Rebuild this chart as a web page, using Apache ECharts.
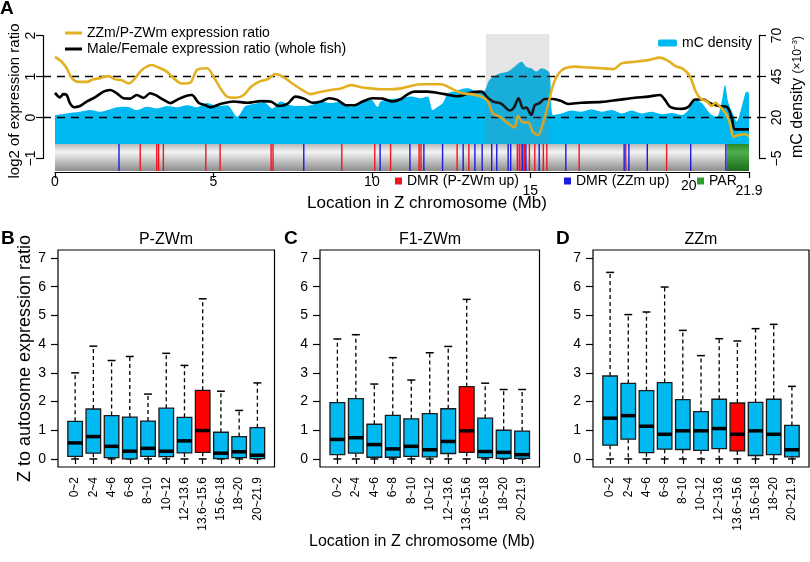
<!DOCTYPE html>
<html><head><meta charset="utf-8">
<script src="https://cdn.jsdelivr.net/npm/echarts@6/dist/echarts.min.js"></script>
<style>html,body{margin:0;padding:0;background:#fff}#c{width:810px;height:562px}</style>
</head><body><div id="c"></div>
<script>
// ================= DATA =================
const chromLength = 21.9;
const xTickValues = [0, 5, 10, 15, 20, 21.9];
const leftTicks = [-1, 0, 1, 2];
const rightTicks = [-5, 20, 45, 70];
const refLines = [0, 1];
const shadedRegion = [13.6, 15.6];
const parRegion = [21.2, 21.9];
const dmrPZWmUp = [2.69, 3.21, 3.27, 3.42, 4.76, 5.21, 6.82, 6.88, 9.05, 10.09, 10.59, 11.49, 11.55, 12.69, 13.06, 14.59, 14.65, 14.71, 14.81, 14.97, 15.14, 15.41, 15.52, 16.54, 18.01, 19.30];
const dmrZZmUp = [2.02, 7.85, 10.26, 11.20, 11.64, 12.23, 12.88, 13.25, 13.48, 13.78, 13.94, 14.30, 14.38, 14.76, 14.86, 15.28, 16.12, 17.96, 18.11, 18.69, 20.06, 21.17];
const ratioZZmPZWm = [[0,1.48],[0.21,1.36],[0.37,1.2],[0.53,0.96],[0.74,0.87],[1.0,0.87],[1.21,0.93],[1.42,0.96],[1.69,1.01],[1.9,0.93],[2.11,0.91],[2.32,0.83],[2.53,0.96],[2.74,1.16],[3.06,1.28],[3.27,1.22],[3.53,1.12],[3.74,0.96],[4.0,0.83],[4.27,0.85],[4.48,1.16],[4.8,1.2],[5.01,0.99],[5.22,0.71],[5.43,0.51],[5.7,0.48],[5.96,0.55],[6.17,0.74],[6.43,0.87],[6.7,0.93],[6.96,1.06],[7.22,0.98],[7.49,0.83],[7.81,0.67],[8.07,0.57],[8.39,0.63],[8.7,0.67],[9.02,0.71],[9.34,0.79],[9.65,0.74],[9.97,0.71],[10.28,0.69],[10.6,0.69],[10.92,0.71],[11.23,0.77],[11.55,0.81],[12.18,0.81],[12.5,0.71],[12.82,0.6],[13.13,0.57],[13.45,0.51],[13.66,0.39],[13.82,0.1],[14.03,0.02],[14.29,-0.14],[14.5,-0.24],[14.61,0.04],[14.77,-0.12],[14.93,-0.12],[15.08,-0.35],[15.24,-0.43],[15.4,-0.14],[15.56,0.3],[15.72,0.8],[15.88,1.06],[16.09,1.2],[16.4,1.24],[16.83,1.22],[17.25,1.2],[17.62,1.18],[17.88,1.32],[18.3,1.36],[18.72,1.4],[19.09,1.46],[19.35,1.38],[19.57,1.26],[19.83,1.18],[20.04,1.0],[20.2,0.67],[20.36,0.47],[20.57,0.39],[20.73,0.28],[20.83,0.36],[21.04,0.22],[21.2,0.06],[21.31,-0.18],[21.41,-0.47],[21.57,-0.43],[21.79,-0.41],[21.9,-0.47]];
const ratioMaleFemale = [[0,0.6],[0.16,0.49],[0.26,0.57],[0.37,0.55],[0.47,0.35],[0.6,0.25],[0.79,0.28],[1.0,0.39],[1.26,0.49],[1.53,0.63],[1.74,0.67],[1.95,0.59],[2.16,0.47],[2.37,0.46],[2.58,0.55],[2.79,0.48],[3.0,0.59],[3.16,0.55],[3.43,0.43],[3.64,0.35],[3.85,0.43],[4.11,0.52],[4.32,0.55],[4.53,0.36],[4.75,0.3],[4.9,0.25],[5.22,0.33],[5.64,0.39],[6.07,0.36],[6.49,0.4],[6.8,0.39],[7.07,0.28],[7.33,0.33],[7.59,0.51],[7.86,0.46],[8.12,0.36],[8.39,0.39],[8.65,0.47],[8.91,0.43],[9.18,0.3],[9.44,0.3],[9.71,0.39],[10.02,0.47],[10.34,0.46],[10.65,0.39],[10.92,0.45],[11.1,0.55],[11.34,0.63],[11.76,0.63],[12.29,0.57],[12.71,0.52],[13.13,0.61],[13.45,0.63],[13.66,0.48],[13.82,0.39],[14.08,0.34],[14.35,0.17],[14.48,0.24],[14.63,0.47],[14.77,0.22],[14.87,0.24],[15.03,0.06],[15.14,0.3],[15.29,0.35],[15.45,0.45],[15.72,0.45],[15.98,0.4],[16.19,0.33],[16.61,0.36],[17.25,0.38],[17.78,0.43],[18.3,0.48],[18.72,0.51],[19.09,0.55],[19.25,0.43],[19.41,0.26],[19.78,0.21],[19.99,0.26],[20.2,0.44],[20.46,0.44],[20.67,0.35],[20.94,0.28],[21.2,0.26],[21.36,-0.02],[21.46,-0.29],[21.9,-0.29]];
const mCDensity = [[0,21.5],[0.37,22.5],[0.79,23.5],[1.11,24.5],[1.42,23.5],[1.74,25],[1.95,26.3],[2.27,26.5],[2.58,24.5],[2.9,26.5],[3.22,25.5],[3.53,27],[3.85,26.3],[4.17,27.5],[4.48,26.3],[4.8,28.8],[5.12,27],[5.43,27.5],[5.75,20.5],[6.01,27],[6.28,28.3],[6.59,29.3],[6.86,25.5],[7.12,29.8],[7.44,27.5],[7.75,27],[8.07,27.5],[8.39,29.8],[8.7,28.8],[9.02,29.8],[9.34,26.5],[9.65,29.8],[9.97,30.8],[10.18,26.5],[10.28,29.8],[10.6,31.3],[10.92,31.8],[11.23,32.8],[11.55,31.8],[11.76,32.8],[11.92,24.5],[12.08,26.5],[12.24,28.8],[12.4,34.8],[12.61,35.8],[12.82,37.3],[13.03,37.8],[13.24,36.3],[13.5,35.3],[13.71,42.8],[13.98,46.5],[14.29,48],[14.56,52],[14.72,54],[14.87,51],[15.03,50],[15.19,48],[15.35,50],[15.5,49],[15.61,47],[15.72,21.5],[15.98,22.5],[16.3,24.3],[16.61,23.5],[16.93,25],[17.25,23.5],[17.57,24.5],[17.88,22.5],[18.2,24.3],[18.51,22.5],[18.83,23.5],[19.15,22],[19.46,22.8],[19.78,21.5],[19.99,24.5],[20.2,30.8],[20.41,28.8],[20.67,22.5],[20.88,20.5],[21.04,29.8],[21.14,39.8],[21.25,28.8],[21.41,21.5],[21.51,17.5],[21.67,26.5],[21.83,35.8],[21.9,34.8]];

const binLabels = ['0~2','2~4','4~6','6~8','8~10','10~12','12~13.6','13.6~15.6','15.6~18','18~20','20~21.9'];
const highlightBin = 7;
const boxTicks = [0,1,2,3,4,5,6,7];
// [min, q1, median, q3, max]
const boxPZWm = [[0,0.09,0.56,1.31,3.0],[0,0.2,0.78,1.74,3.93],[0,0.05,0.44,1.51,3.43],[0,0.0,0.27,1.46,3.57],[0,0.09,0.37,1.32,2.26],[0,0.08,0.27,1.77,3.68],[0,0.21,0.63,1.45,3.26],[0,0.23,0.99,2.39,5.58],[0,0.01,0.2,0.93,2.36],[0,0.05,0.25,0.78,1.69],[0,0.01,0.13,1.09,2.65]];
const boxF1ZWm = [[0,0.15,0.68,1.96,4.18],[0,0.2,0.74,2.1,4.33],[0,0.06,0.5,1.21,2.61],[0,0.06,0.35,1.52,3.53],[0,0.09,0.44,1.4,2.75],[0,0.07,0.32,1.58,3.7],[0,0.19,0.61,1.75,3.92],[0,0.23,0.98,2.52,5.56],[0,0.05,0.26,1.42,2.64],[0,0.02,0.23,1.0,2.42],[0,0.02,0.15,0.97,2.42]];
const boxZZm = [[0,0.48,1.42,2.89,6.5],[0,0.69,1.51,2.63,5.03],[0,0.22,1.14,2.38,5.12],[0,0.34,0.86,2.66,5.99],[0,0.33,0.98,2.07,4.48],[0,0.3,0.98,1.65,3.6],[0,0.36,1.06,2.08,4.19],[0,0.28,0.86,1.95,4.11],[0,0.12,0.98,1.97,4.54],[0,0.15,0.86,2.08,4.69],[0,0.07,0.32,1.17,2.53]];

// ================= STYLE / LAYOUT =================
const FONT = "'Liberation Sans', Arial, Helvetica, sans-serif";
const BLUE = '#00B9F1', GOLD = '#E2B021', RED = '#FF0000';
const DMR_RED = '#EE1620', DMR_BLUE = '#1B1BE0', PAR_GREEN = '#2E9E2E';
const A = {plotLeft:43, plotRight:760, dataLeft:55, dataRight:749, top:30, bottom:172,
           zeroY:117.5, pxPerUnit:41, chromTopY:144, chromBotY:171, shadeTopY:34};
const pxPerMb = (A.dataRight - A.dataLeft) / chromLength;
const yToL = y => (A.zeroY - y) / A.pxPerUnit;
const rightAtZero = rightTicks[1], rightPerUnit = rightTicks[2] - rightTicks[1];
const LtoR = L => rightAtZero + rightPerUnit * L;
const Lmin = yToL(A.bottom), Lmax = yToL(A.top);
const chromTopL = yToL(A.chromTopY), chromBotL = yToL(A.chromBotY), shadeTopL = yToL(A.shadeTopY);
const xMin = -(A.dataLeft - A.plotLeft) / pxPerMb;
const xMax = chromLength + (A.plotRight - A.dataRight) / pxPerMb;
const axisTop = A.zeroY - leftTicks[leftTicks.length-1] * A.pxPerUnit;
const axisH = (leftTicks[leftTicks.length-1] - leftTicks[0]) * A.pxPerUnit;

const boxFrames = [{l:58, r:274.5}, {l:320, r:539.5}, {l:593, r:809}];
const boxTop = 250, boxBottom = 467;
const nBins = binLabels.length;
const bxMin = 0.5 - 0.04 * nBins, bxMax = nBins + 0.5 + 0.04 * nBins;
const byMin = -0.04 * 7, byMax = 7 + 0.04 * 7;

const txt = (size, extra) => Object.assign({fontFamily: FONT, fontSize: size, color: '#000'}, extra || {});
const minus = v => (v < 0 ? '\u2212' + Math.abs(v) : String(v));

// ================= GRIDS & AXES =================
const grids = [
  {left: A.plotLeft, top: A.top, width: A.plotRight - A.plotLeft, height: A.bottom - A.top},
  {left: A.dataLeft, top: A.bottom - 1, width: A.dataRight - A.dataLeft, height: 1},
  {left: A.plotLeft, top: axisTop, width: 1, height: axisH},
  {left: A.plotRight - 1, top: axisTop, width: 1, height: axisH},
].concat(boxFrames.map(f => ({left: f.l, top: boxTop, width: f.r - f.l, height: boxBottom - boxTop,
  show: true, borderColor: '#000', borderWidth: 1.2, backgroundColor: 'transparent'})))
 .map(g => Object.assign({containLabel: false, outerBoundsMode: 'none'}, g));

const hiddenX = gi => ({type:'value', gridIndex: gi, min: 0, max: 1, show: false});
const xAxes = [
  {type:'value', gridIndex:0, min:xMin, max:xMax, show:false},
  {type:'value', gridIndex:1, min:0, max:chromLength, splitLine:{show:false},
   axisLine:{show:true, lineStyle:{color:'#000', width:1.2}},
   axisTick:{show:true, customValues: xTickValues, length:6, lineStyle:{color:'#000', width:1.2}},
   axisLabel:{show:true, customValues: xTickValues, margin:3, showMinLabel:true, showMaxLabel:true,
     formatter: v => { const s = String(v); if (v === 15 || v === 21.9) return '{lo|' + s + '}'; if (v === 20) return '{mid|' + s + '}'; return '{n|' + s + '}'; },
     rich: {n: txt(14), mid: txt(14, {padding:[4,0,0,0]}), lo: txt(14, {padding:[9,0,0,0]})}}},
  hiddenX(2), hiddenX(3)
].concat(boxFrames.map((f, i) => ({
  type:'value', gridIndex: 4 + i, min: bxMin, max: bxMax, splitLine:{show:false},
  axisLine:{show:false},
  axisTick:{show:true, customValues: binLabels.map((_, k) => k + 1), length:5, lineStyle:{color:'#000', width:1.2}},
  axisLabel:{show:true, customValues: binLabels.map((_, k) => k + 1), rotate:90, margin:10,
    formatter: v => binLabels[Math.round(v) - 1], ...txt(12)}
})));

const yAxes = [
  {type:'value', gridIndex:0, min:Lmin, max:Lmax, show:false},
  {type:'value', gridIndex:0, min:LtoR(Lmin), max:LtoR(Lmax), show:false, position:'right'},
  {type:'value', gridIndex:1, min:0, max:1, show:false},
  {type:'value', gridIndex:2, min:leftTicks[0], max:leftTicks[leftTicks.length-1], splitLine:{show:false},
   axisLine:{show:true, lineStyle:{color:'#000', width:1.2}},
   axisTick:{show:true, customValues: leftTicks, length:7, lineStyle:{color:'#000', width:1.2}},
   axisLabel:{show:true, customValues: leftTicks, rotate:90, margin:5, formatter: minus, ...txt(14)},
   name:'log2 of expression ratio', nameLocation:'middle', nameRotate:90, nameGap:21,
   nameTextStyle: txt(15, {padding:[0,8,0,0]})},
  {type:'value', gridIndex:3, position:'right', min:rightTicks[0], max:rightTicks[rightTicks.length-1], splitLine:{show:false},
   axisLine:{show:true, lineStyle:{color:'#000', width:1.2}},
   axisTick:{show:true, customValues: rightTicks, length:7, lineStyle:{color:'#000', width:1.2}},
   axisLabel:{show:true, customValues: rightTicks, rotate:90, margin:10, formatter: minus, ...txt(14)},
   name:'{a|mC density }{b|(\u00d710}{c|\u22123}{b|)}', nameLocation:'middle', nameRotate:90, nameGap:30,
   nameTextStyle: {rich: {a: txt(16), b: txt(12), c: txt(8, {padding:[0,0,7,0]})}}}
].concat(boxFrames.map((f, i) => Object.assign({
  type:'value', gridIndex: 4 + i, min: byMin, max: byMax, splitLine:{show:false},
  axisLine:{show:false},
  axisTick:{show:true, customValues: boxTicks, length:7, lineStyle:{color:'#000', width:1.2}},
  axisLabel:{show:true, customValues: boxTicks, margin:12, ...txt(14)}
}, i === 0 ? {name:'Z to autosome expression ratio', nameLocation:'middle', nameRotate:90, nameGap:22, nameTextStyle: txt(18)} : {})));

// ================= SERIES =================
function rectSeries(name, data, z, styleFn, yTopL, yBotL) {
  return {type:'custom', name, xAxisIndex:0, yAxisIndex:0, z, silent:true, data,
    encode:{x:[0,1]},
    renderItem(params, api) {
      const p1 = api.coord([api.value(0), yTopL]);
      const p2 = api.coord([api.value(1), yBotL]);
      return {type:'rect', shape:{x:p1[0], y:p1[1], width:p2[0]-p1[0], height:p2[1]-p1[1]}, style: styleFn()};
    }};
}
const grad = stops => ({type:'linear', x:0, y:0, x2:0, y2:1, colorStops: stops.map(([o,c]) => ({offset:o, color:c}))});

function dmrSeries(name, positions, color) {
  return {type:'custom', name, xAxisIndex:0, yAxisIndex:0, z:4, silent:true,
    itemStyle:{color}, data: positions.map(v => [v]), encode:{x:0},
    renderItem(params, api) {
      const t = api.coord([api.value(0), chromTopL]);
      const b = api.coord([api.value(0), chromBotL]);
      return {type:'line', shape:{x1:t[0], y1:t[1], x2:b[0], y2:b[1]}, style:{stroke:color, lineWidth:1.4}};
    }};
}

function boxSeries(data, i) {
  return {type:'custom', xAxisIndex: 4 + i, yAxisIndex: 5 + i, silent:true,
    data: data.map((d, k) => [k + 1].concat(d)),
    encode:{x:0, y:[1,2,3,4,5]},
    renderItem(params, api) {
      const idx = api.value(0);
      const [mn, q1, md, q3, mx] = [1,2,3,4,5].map(k => api.value(k));
      const cx = api.coord([idx, 0])[0];
      const y = v => api.coord([idx, v])[1];
      const w = api.size([0.8, 0])[0], hw = w / 2, cap = w * 0.27;
      const fill = (idx - 1) === highlightBin ? RED : BLUE;
      const dash = {stroke:'#000', lineWidth:1.3, lineDash:[4,3]};
      const solid = {stroke:'#000', lineWidth:1.5};
      return {type:'group', children:[
        {type:'line', shape:{x1:cx, y1:y(q3), x2:cx, y2:y(mx)}, style:dash},
        {type:'line', shape:{x1:cx, y1:y(q1), x2:cx, y2:y(mn)}, style:dash},
        {type:'line', shape:{x1:cx-cap, y1:y(mx), x2:cx+cap, y2:y(mx)}, style:solid},
        {type:'line', shape:{x1:cx-cap, y1:y(mn), x2:cx+cap, y2:y(mn)}, style:solid},
        {type:'rect', shape:{x:cx-hw, y:y(q3), width:w, height:y(q1)-y(q3)}, style:{fill, stroke:'#1a1a1a', lineWidth:1.3}},
        {type:'line', shape:{x1:cx-hw, y1:y(md), x2:cx+hw, y2:y(md)}, style:{stroke:'#000', lineWidth:3.5}}
      ]};
    }};
}

const series = [
  {type:'line', name:'mC density', xAxisIndex:0, yAxisIndex:1, z:1, data: mCDensity, symbol:'none', smooth:0.3,
   color: BLUE, itemStyle:{color: BLUE}, lineStyle:{width:0, color: BLUE},
   areaStyle:{color: BLUE, opacity:1, origin: LtoR(chromTopL)}, silent:true},
  rectSeries('chromosome', [[0, chromLength]], 2, () => ({fill: grad([[0,'#b9b9b9'],[0.3,'#f4f4f4'],[1,'#8c8c8c']])}), chromTopL, chromBotL),
  Object.assign(rectSeries('PAR', [parRegion], 3, () => ({fill: grad([[0,'#2a8a2a'],[0.3,'#4cb04c'],[1,'#1d6b1d']])}), chromTopL, chromBotL), {itemStyle:{color: PAR_GREEN}}),
  dmrSeries('DMR (P-ZWm up)', dmrPZWmUp, DMR_RED),
  dmrSeries('DMR (ZZm up)', dmrZZmUp, DMR_BLUE),
  {type:'line', name:'ZZm/P-ZWm expression ratio', xAxisIndex:0, yAxisIndex:0, z:6, data: ratioZZmPZWm, symbol:'none', smooth:0.3,
   color: GOLD, lineStyle:{width:2.6, color: GOLD}, silent:true},
  {type:'line', name:'Male/Female expression ratio (whole fish)', xAxisIndex:0, yAxisIndex:0, z:5, data: ratioMaleFemale, symbol:'none', smooth:0.3,
   color:'#000', lineStyle:{width:2.6, color:'#000'}, silent:true,
   markLine:{silent:true, symbol:['none','none'], label:{show:false}, animation:false,
     lineStyle:{color:'#000', width:1.3, type:[8,6]}, data: refLines.map(v => ({yAxis: v}))}},
  rectSeries('shade', [shadedRegion], 8, () => ({fill:'rgba(125,125,125,0.2)'}), shadeTopL, chromTopL)
].concat([boxPZWm, boxF1ZWm, boxZZm].map((d, i) => boxSeries(d, i)));

// ================= LEGENDS & TITLES =================
const legBase = {padding:0, selectedMode:false, textStyle: txt(14)};
const legends = [
  Object.assign({}, legBase, {data:['ZZm/P-ZWm expression ratio','Male/Female expression ratio (whole fish)'],
    orient:'vertical', left:65, top:26, icon:'rect', itemWidth:17, itemHeight:3, itemGap:2}),
  Object.assign({}, legBase, {data:['mC density'], left:658, top:36, icon:'roundRect', itemWidth:19, itemHeight:7}),
  Object.assign({}, legBase, {data:['DMR (P-ZWm up)'], left:395, top:174, icon:'rect', itemWidth:7, itemHeight:7}),
  Object.assign({}, legBase, {data:['DMR (ZZm up)'], left:564, top:174, icon:'rect', itemWidth:7, itemHeight:7}),
  Object.assign({}, legBase, {data:['PAR'], left:697, top:174, icon:'rect', itemWidth:7, itemHeight:7})
];
const T = (text, left, top, size, bold, align) => ({text, left, top, padding:0, textAlign: align || 'left',
  textStyle: txt(size, {fontWeight: bold ? 'bold' : 'normal'})});
const titles = [
  T('A', 0, -1, 19, true), T('B', 1, 229, 19, true), T('C', 284, 229, 19, true), T('D', 556, 229, 19, true),
  T('P-ZWm', 166, 232, 16, false, 'center'), T('F1-ZWm', 430, 232, 16, false, 'center'), T('ZZm', 701, 232, 16, false, 'center'),
  T('Location in Z chromosome (Mb)', 427, 195, 17, false, 'center'),
  T('Location in Z chromosome (Mb)', 422, 534, 16, false, 'center')
];

const chart = echarts.init(document.getElementById('c'), null, {renderer:'canvas'});
chart.setOption({animation:false, backgroundColor:'#fff', title: titles, legend: legends,
  grid: grids, xAxis: xAxes, yAxis: yAxes, series});
</script></body></html>
